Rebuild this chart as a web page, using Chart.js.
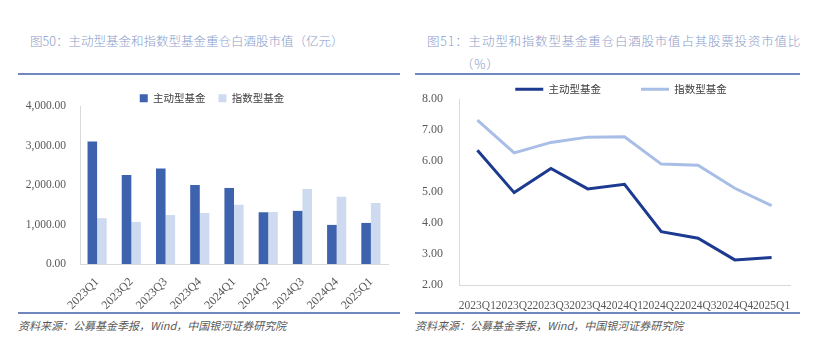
<!DOCTYPE html>
<html>
<head>
<meta charset="utf-8">
<script src="https://cdn.jsdelivr.net/npm/chart.js@4.4.1/dist/chart.umd.min.js"></script>
<style>
  html, body { margin: 0; padding: 0; background: #fff; }
  #page { position: relative; width: 813px; height: 346px; overflow: hidden; font-family: "Noto Sans CJK SC", "Noto Sans", sans-serif; }
  .title { position: absolute; color: #8a9bca; font-size: 12.5px; line-height: 23px; white-space: nowrap; font-weight: 300; }
  .rule { position: absolute; height: 2px; background: #6f86bf; }
  .src { position: absolute; color: #595959; font-size: 11px; font-style: italic; white-space: nowrap; }
  .box { position: absolute; }
</style>
</head>
<body>
<div id="page">
  <div class="title" style="left:30px; top:29px;">图50：主动型基金和指数型基金重仓白酒股市值（亿元）</div>
  <div class="title" style="left:427px; top:29px; letter-spacing:0.8px;">图51：主动型和指数型基金重仓白酒股市值占其股票投资市值比<br><span style="padding-left:34px;">（%）</span></div>
  <div class="rule" style="left:18px; top:73px; width:382px;"></div>
  <div class="rule" style="left:415px; top:73px; width:385px;"></div>

  <div class="box" style="left:18px; top:80px; width:382px; height:232px;"><canvas id="bar-chart"></canvas></div>
  <div class="box" style="left:415px; top:44px; width:385px; height:268px;"><canvas id="line-chart"></canvas></div>

  <div class="rule" style="left:18px; top:312px; width:382px;"></div>
  <div class="rule" style="left:415px; top:312px; width:385px;"></div>
  <div class="src" style="left:18px; top:317px;">资料来源：公募基金季报，Wind，中国银河证券研究院</div>
  <div class="src" style="left:415px; top:317px;">资料来源：公募基金季报，Wind，中国银河证券研究院</div>
</div>
<script>
// 季度标签
var quarters = ['2023Q1', '2023Q2', '2023Q3', '2023Q4', '2024Q1', '2024Q2', '2024Q3', '2024Q4', '2025Q1'];
// 重仓白酒股市值（亿元）
var activeValue = [3100, 2255, 2420, 2000, 1925, 1310, 1345, 990, 1040];
var indexValue = [1160, 1065, 1240, 1290, 1500, 1315, 1900, 1705, 1545];
// 占股票投资市值比（%）
var activeRatio = [6.35, 4.98, 5.76, 5.10, 5.25, 3.72, 3.51, 2.81, 2.89];
var indexRatio = [7.32, 6.26, 6.60, 6.77, 6.78, 5.90, 5.86, 5.12, 4.56];

var serif = '"Liberation Serif", "Times New Roman", serif';
var cjk = '"Noto Sans CJK SC", sans-serif';
var axisGray = '#d9d9d9';
var tickGray = '#595959';

Chart.defaults.animation = false;

// 图例整体右移一点，和原图对齐
var legendShift = {
    id: 'legendShift',
    afterLayout: function (chart, args, opts) {
        if (chart.legend) {
            chart.legend.left += opts.dx || 0;
            chart.legend.right += opts.dx || 0;
        }
    }
};

var barCtx = document.getElementById('bar-chart').getContext('2d');
var barChart = new Chart(barCtx, {
    type: 'bar',
    data: {
        labels: quarters,
        datasets: [{
            label: '主动型基金',
            data: activeValue,
            backgroundColor: '#3d63ae',
            categoryPercentage: 0.56,
            barPercentage: 1
        }, {
            label: '指数型基金',
            data: indexValue,
            backgroundColor: '#cedaef',
            categoryPercentage: 0.56,
            barPercentage: 1
        }]
    },
    plugins: [legendShift],
    options: {
        responsive: true,
        maintainAspectRatio: false,
        layout: { padding: { top: 0, right: 12, left: 0, bottom: 0 } },
        plugins: {
            tooltip: { enabled: false },
            legendShift: { dx: 9 },
            legend: {
                maxHeight: 26,
                labels: {
                    boxWidth: 8,
                    boxHeight: 8,
                    padding: 13,
                    color: '#404040',
                    font: { family: cjk, size: 10.5 }
                }
            }
        },
        scales: {
            x: {
                grid: { display: false },
                border: { color: axisGray },
                ticks: {
                    color: tickGray,
                    font: { family: serif, size: 12 },
                    minRotation: 45,
                    maxRotation: 45,
                    autoSkip: false
                },
                afterFit: function (s) { s.height = 48; }
            },
            y: {
                min: 0,
                max: 4000,
                grid: { display: false },
                border: { color: axisGray },
                ticks: {
                    stepSize: 1000,
                    padding: 6,
                    color: tickGray,
                    font: { family: serif, size: 11.5 },
                    callback: function (v) {
                        return v.toLocaleString('en-US', { minimumFractionDigits: 2, maximumFractionDigits: 2 });
                    }
                },
                afterFit: function (s) { s.width = 62; }
            }
        }
    }
});

var lineCtx = document.getElementById('line-chart').getContext('2d');
var lineChart = new Chart(lineCtx, {
    type: 'line',
    data: {
        labels: quarters,
        datasets: [{
            label: '主动型基金',
            data: activeRatio,
            borderColor: '#1c3a8f',
            backgroundColor: '#1c3a8f',
            borderWidth: 3,
            pointRadius: 0,
            pointStyle: 'line',
            fill: false,
            lineTension: 0
        }, {
            label: '指数型基金',
            data: indexRatio,
            borderColor: '#a9bee6',
            backgroundColor: '#a9bee6',
            borderWidth: 3,
            pointRadius: 0,
            pointStyle: 'line',
            fill: false,
            lineTension: 0
        }]
    },
    plugins: [legendShift],
    options: {
        responsive: true,
        maintainAspectRatio: false,
        layout: { padding: { top: 0, right: 10, left: 0, bottom: 0 } },
        plugins: {
            tooltip: { enabled: false },
            legendShift: { dx: 18.5 },
            legend: {
                maxHeight: 55,
                labels: {
                    usePointStyle: true,
                    pointStyleWidth: 28,
                    padding: 40,
                    color: '#404040',
                    font: { family: cjk, size: 10.5 }
                }
            }
        },
        scales: {
            x: {
                offset: true,
                grid: { display: false },
                border: { color: axisGray },
                ticks: {
                    color: tickGray,
                    font: { family: serif, size: 11.5 },
                    minRotation: 0,
                    maxRotation: 0,
                    autoSkip: false,
                    padding: 6
                },
                afterFit: function (s) { s.height = 27; }
            },
            y: {
                min: 2,
                max: 8,
                grid: { display: false },
                border: { color: axisGray },
                ticks: {
                    stepSize: 1,
                    padding: 8,
                    color: tickGray,
                    font: { family: serif, size: 12 },
                    callback: function (v) { return v.toFixed(2); }
                },
                afterFit: function (s) { s.width = 44; }
            }
        }
    }
});
</script>
</body>
</html>
